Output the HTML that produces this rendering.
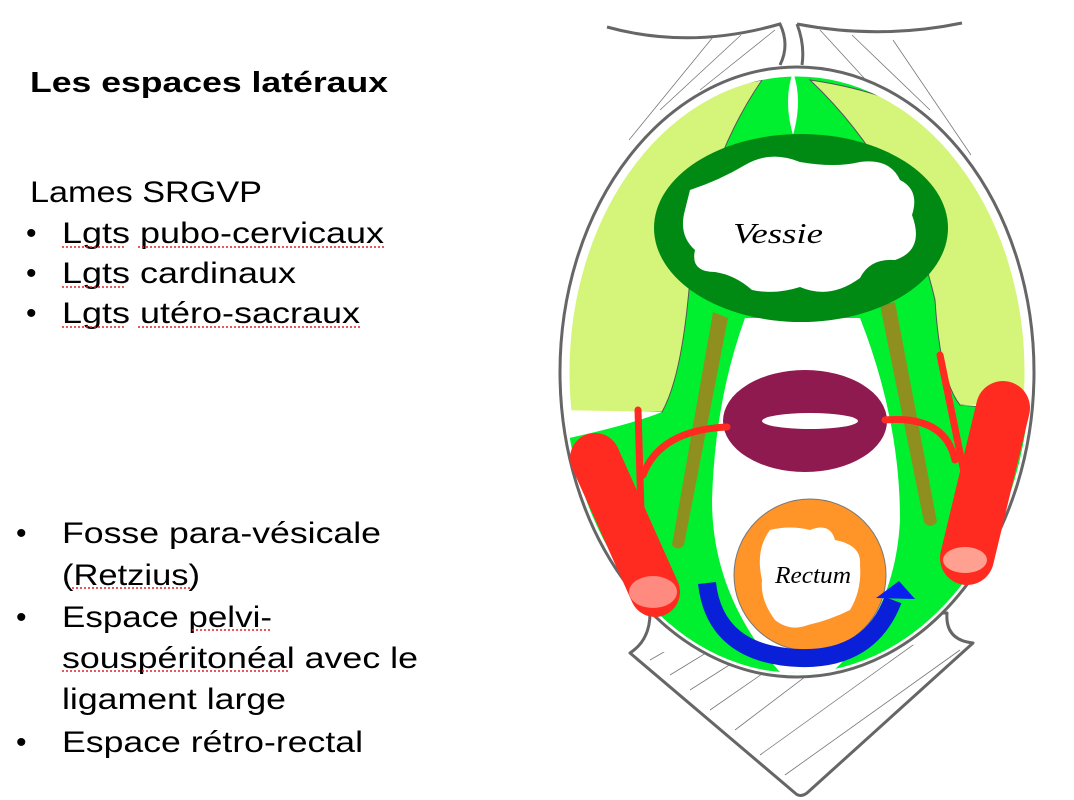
<!DOCTYPE html>
<html><head><meta charset="utf-8"><style>
html,body{margin:0;padding:0;background:#fff;}
svg{display:block;}
text{font-family:"Liberation Sans",Arial,sans-serif;fill:#000;}
</style></head><body>
<svg width="1074" height="800" viewBox="0 0 1074 800" xmlns="http://www.w3.org/2000/svg">
<defs>
<clipPath id="oval"><ellipse cx="797" cy="372" rx="233" ry="301"/></clipPath>
<clipPath id="upper"><rect x="540" y="0" width="520" height="420"/></clipPath>
<clipPath id="bh"><path d="M630,653 L973,643 L807,793 Z"/></clipPath>
</defs>
<!-- text -->
<text x="30" y="92" font-size="29" font-weight="bold" textLength="358" lengthAdjust="spacingAndGlyphs">Les espaces latéraux</text>
<g font-size="30">
<text x="30" y="202" textLength="232" lengthAdjust="spacingAndGlyphs">Lames SRGVP</text>
<text x="26" y="243">•</text><text x="62" y="243" textLength="322" lengthAdjust="spacingAndGlyphs">Lgts pubo-cervicaux</text>
<text x="26" y="283">•</text><text x="62" y="283" textLength="234" lengthAdjust="spacingAndGlyphs">Lgts cardinaux</text>
<text x="26" y="323">•</text><text x="62" y="323" textLength="298" lengthAdjust="spacingAndGlyphs">Lgts utéro-sacraux</text>
<text x="16" y="543">•</text><text x="62" y="543" textLength="319" lengthAdjust="spacingAndGlyphs">Fosse para-vésicale</text>
<text x="62" y="585" textLength="138" lengthAdjust="spacingAndGlyphs">(Retzius)</text>
<text x="16" y="627">•</text><text x="62" y="627" textLength="210" lengthAdjust="spacingAndGlyphs">Espace pelvi-</text>
<text x="62" y="668" textLength="356" lengthAdjust="spacingAndGlyphs">souspéritonéal avec le</text>
<text x="62" y="709" textLength="224" lengthAdjust="spacingAndGlyphs">ligament large</text>
<text x="16" y="752">•</text><text x="62" y="752" textLength="301" lengthAdjust="spacingAndGlyphs">Espace rétro-rectal</text>
</g>
<g stroke="#e02020" stroke-width="1.5" stroke-dasharray="2,2" fill="none">
<line x1="62" y1="247" x2="125" y2="247"/><line x1="138" y1="247" x2="384" y2="247"/>
<line x1="62" y1="287" x2="125" y2="287"/>
<line x1="62" y1="327" x2="125" y2="327"/><line x1="138" y1="327" x2="360" y2="327"/>
<line x1="72" y1="588" x2="190" y2="588"/>
<line x1="192" y1="630" x2="272" y2="630"/>
<line x1="62" y1="671" x2="290" y2="671"/>
</g>

<!-- top hatch -->
<g stroke="#777" stroke-width="0.8" fill="none">
<line x1="713" y1="37" x2="629" y2="140"/><line x1="741" y1="35" x2="660" y2="110"/>
<line x1="775" y1="30" x2="700" y2="90"/>
<line x1="820" y1="30" x2="875" y2="90"/><line x1="852" y1="35" x2="930" y2="110"/>
<line x1="893" y1="40" x2="971" y2="155"/>
</g>
<path d="M607,27 Q690,50 780,24 Q790,45 780,65 M797,24 Q805,45 802,65 M797,24 Q880,40 962,23" stroke="#666" stroke-width="3" fill="none"/>

<!-- bottom hatch region -->
<path d="M630,653 Q650,640 650,613 L947,613 Q945,640 973,643 L807,793 Q800,798 795,793 Z" fill="#fff" stroke="#666" stroke-width="3" stroke-linejoin="round"/>
<g stroke="#777" stroke-width="0.8" clip-path="url(#bh)">
<line x1="650" y1="660" x2="720" y2="620"/><line x1="670" y1="675" x2="760" y2="620"/>
<line x1="690" y1="690" x2="800" y2="620"/><line x1="710" y1="710" x2="840" y2="620"/>
<line x1="735" y1="730" x2="880" y2="620"/><line x1="760" y1="755" x2="920" y2="640"/>
<line x1="785" y1="775" x2="960" y2="650"/>
</g>

<!-- outer oval -->
<ellipse cx="797" cy="372" rx="237" ry="305" fill="#fff" stroke="#666" stroke-width="3"/>
<g clip-path="url(#oval)">
<ellipse cx="797" cy="372" rx="233" ry="301" fill="#00f030"/>
<!-- pale lobes -->
<path d="M762,80 Q700,170 688,300 Q680,380 662,412 L560,415 L560,200 Q640,100 762,80 Z" fill="#d4f57a" stroke="#555" stroke-width="1"/>
<path d="M810,80 Q905,170 935,300 Q940,380 960,405 L1040,412 L1040,200 Q950,100 810,80 Z" fill="#d4f57a" stroke="#555" stroke-width="1"/>
<path d="M560,410 L662,412 Q630,425 560,440 Z" fill="#fff"/>
<path d="M1040,410 L960,405 Q990,405 1040,400 Z" fill="#fff"/>
<!-- central white spindle -->
<path d="M745,318 L860,318 Q900,420 900,520 Q895,620 823,680 L787,680 Q712,600 712,500 Q715,400 745,318 Z" fill="#fff"/>
</g>
<ellipse cx="797" cy="372" rx="231" ry="299" fill="none" stroke="#fff" stroke-width="7" clip-path="url(#upper)"/>
<!-- top white lens -->
<path d="M793,72 Q803,100 793,135 Q783,100 793,72 Z" fill="#fff"/>
<!-- olive bands -->
<path d="M713,312 L728,318 L684,545 Q678,552 672,545 Z" fill="#8f8f20"/>
<path d="M880,305 L895,302 L937,522 Q930,530 924,522 Z" fill="#8f8f20"/>
<!-- bladder -->
<ellipse cx="801" cy="228" rx="147" ry="94" fill="#008a14"/>
<path d="M690,190 Q720,180 745,165 Q770,150 800,162 Q835,168 860,162 Q890,158 900,180 Q920,190 912,215 Q925,250 895,260 Q870,258 860,278 Q830,300 800,287 Q775,295 752,290 Q735,275 715,272 Q690,272 695,250 Q678,235 685,210 Z" fill="#fff"/>
<text x="733" y="243" font-size="28" font-style="italic" style="font-family:'Liberation Serif',serif" fill="#333" textLength="90" lengthAdjust="spacingAndGlyphs">Vessie</text>
<!-- purple ring -->
<ellipse cx="805" cy="421" rx="82" ry="51" fill="#8f1a50"/>
<ellipse cx="810" cy="421" rx="48" ry="8" fill="#fff"/>
<!-- red vessels -->
<g fill="none" stroke="#ff2a20" stroke-linecap="round">
<line x1="595" y1="458" x2="655" y2="592" stroke-width="50"/>
<line x1="1003" y1="408" x2="967" y2="558" stroke-width="54"/>
<path d="M638,410 L641,512" stroke-width="7"/>
<path d="M727,427 Q660,430 643,475" stroke-width="7"/>
<path d="M940,355 L965,477" stroke-width="7"/>
<path d="M885,420 Q945,415 955,460" stroke-width="7"/>
</g>
<ellipse cx="653" cy="592" rx="24" ry="16" fill="#ff8a80"/>
<ellipse cx="965" cy="560" rx="22" ry="13" fill="#ffa090"/>
<!-- rectum -->
<circle cx="810" cy="575" r="76" fill="#ff9428" stroke="#777" stroke-width="1"/>
<path d="M770,530 Q790,525 810,530 Q830,522 835,540 Q862,545 860,565 Q862,590 850,610 Q830,620 808,625 Q790,632 775,620 Q760,600 762,580 Q755,550 770,530 Z" fill="#fff"/>
<text x="775" y="583" font-size="24" font-style="italic" style="font-family:'Liberation Serif',serif" fill="#333" textLength="76" lengthAdjust="spacingAndGlyphs">Rectum</text>
<!-- blue arrow -->
<path d="M707,583 Q715,655 800,658 Q870,660 893,600" fill="none" stroke="#0a20d8" stroke-width="18"/>
<path d="M876,598 L899,581 L915,599 Z" fill="#0a20f0"/>
</svg>
</body></html>
